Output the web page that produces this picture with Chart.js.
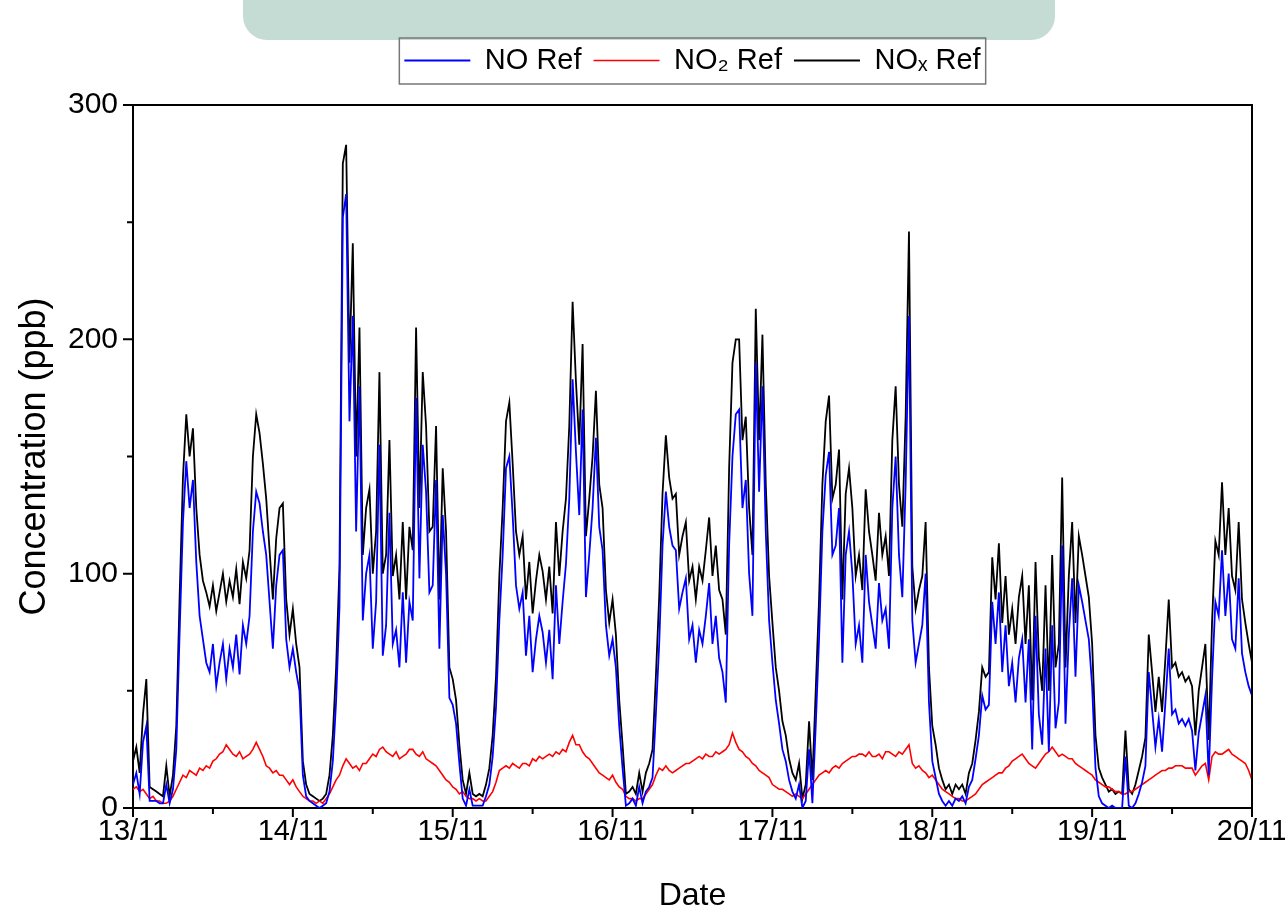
<!DOCTYPE html>
<html>
<head>
<meta charset="utf-8">
<script src="https://cdn.jsdelivr.net/npm/chart.js@4"></script>
<style>
  html, body { margin: 0; padding: 0; background: #fff; }
  #wrap { position: relative; width: 1285px; height: 906px; overflow: hidden; }
  #tab { position: absolute; left: 243px; top: -30px; width: 812px; height: 70px; border-radius: 24px; background: #c5dcd4; }
  canvas { position: absolute; left: 0; top: 0; }
</style>
</head>
<body>
<div id="wrap">
  <div id="tab"></div>
  <canvas id="chart" width="1285" height="906"></canvas>
</div>
<script>
// one reading every half hour, 13/11 00:00 to 20/11 00:00
var stepHours = 0.5;
var dayLabels = ['13/11', '14/11', '15/11', '16/11', '17/11', '18/11', '19/11', '20/11'];

var noRef = [
	10, 15, 6, 28, 35, 3, 3, 3, 2, 2, 10, 2, 8, 25, 75, 122, 148, 128, 140, 105, 82, 72, 62, 58, 70, 52, 62, 70, 55, 68, 60, 74, 57, 78, 70, 82, 118, 135, 130, 118, 108, 88, 68, 95, 108, 110, 72, 60,
	68, 58, 50, 14, 5, 3, 2, 1, 0, 1, 2, 7, 20, 46, 86, 252, 262, 165, 210, 118, 180, 80, 100, 108, 68, 88, 155, 65, 78, 126, 70, 76, 60, 92, 62, 88, 80, 175, 98, 155, 135, 92, 95, 140, 68, 125, 100, 47,
	44, 36, 19, 4, 1, 8, 1, 1, 1, 1, 5, 10, 22, 43, 80, 108, 145, 150, 125, 95, 85, 92, 65, 82, 58, 72, 82, 75, 62, 76, 55, 95, 70, 88, 104, 132, 183, 152, 125, 170, 90, 108, 128, 158, 120, 110, 78, 65,
	72, 60, 35, 17, 1, 2, 4, 1, 9, 2, 7, 9, 13, 40, 70, 112, 135, 120, 112, 110, 85, 92, 98, 72, 78, 62, 76, 70, 82, 96, 70, 82, 64, 58, 45, 112, 150, 168, 170, 128, 140, 100, 82, 190, 135, 180, 118, 80,
	62, 46, 36, 25, 20, 12, 7, 4, 10, 0, 3, 25, 2, 35, 72, 118, 142, 152, 108, 112, 128, 62, 108, 118, 100, 70, 78, 62, 108, 88, 78, 68, 96, 80, 85, 68, 128, 150, 108, 90, 138, 210, 80, 62, 70, 78, 100, 45,
	20, 13, 6, 3, 1, 3, 1, 4, 3, 5, 2, 9, 12, 21, 31, 48, 42, 44, 88, 70, 92, 58, 78, 52, 62, 45, 64, 72, 45, 72, 25, 82, 40, 27, 68, 24, 78, 34, 45, 112, 36, 74, 98, 56, 95, 88, 80, 72,
	52, 17, 5, 2, 1, 0, 1, 0, 0, 0, 22, 1, 0, 2, 6, 11, 18, 58, 42, 26, 38, 24, 45, 68, 40, 42, 36, 38, 35, 38, 33, 16, 32, 40, 48, 14, 55, 88, 82, 110, 82, 100, 72, 68, 98, 66, 58, 52, 48
];

var no2Ref = [
	8, 9, 7, 8, 6, 4, 5, 3, 3, 2, 2, 3, 5, 8, 11, 14, 13, 16, 15, 14, 17, 16, 18, 17, 20, 21, 23, 24, 27, 25, 23, 22, 24, 21, 22, 23, 25, 28, 25, 22, 18, 17, 15, 16, 14, 14, 12, 10,
	12, 9, 7, 5, 4, 3, 3, 2, 3, 2, 4, 6, 9, 12, 14, 18, 21, 19, 17, 18, 16, 19, 19, 21, 23, 22, 25, 26, 24, 23, 22, 24, 21, 22, 23, 25, 25, 23, 22, 24, 21, 20, 19, 18, 16, 14, 12, 11,
	9, 8, 6, 7, 5, 4, 4, 3, 4, 3, 3, 5, 7, 11, 16, 17, 18, 17, 19, 18, 17, 19, 19, 18, 21, 20, 22, 21, 22, 23, 22, 24, 23, 25, 24, 28, 31, 27, 27, 24, 22, 21, 19, 17, 15, 14, 13, 12,
	14, 11, 9, 8, 5, 4, 4, 3, 4, 4, 6, 8, 10, 14, 17, 16, 18, 16, 15, 16, 17, 18, 19, 19, 20, 21, 22, 21, 23, 22, 22, 24, 23, 24, 25, 27, 32, 28, 25, 24, 22, 21, 19, 18, 16, 15, 14, 13,
	10, 9, 8, 8, 7, 6, 5, 6, 5, 4, 6, 8, 10, 12, 14, 15, 16, 15, 17, 18, 17, 19, 20, 21, 22, 22, 23, 23, 22, 24, 22, 22, 23, 21, 24, 24, 23, 22, 24, 23, 25, 27, 19, 17, 18, 16, 15, 13,
	14, 12, 10, 8, 7, 6, 5, 4, 4, 3, 3, 4, 5, 6, 8, 10, 11, 12, 13, 14, 15, 15, 17, 18, 20, 21, 22, 23, 21, 19, 18, 17, 19, 21, 23, 24, 26, 24, 22, 23, 22, 21, 21, 19, 18, 17, 16, 15,
	14, 12, 11, 10, 9, 9, 8, 7, 7, 6, 6, 7, 7, 8, 9, 10, 11, 12, 13, 14, 15, 16, 16, 17, 17, 18, 18, 18, 17, 17, 17, 14, 16, 18, 19, 12, 22, 24, 23, 23, 24, 25, 23, 22, 21, 20, 19, 16, 12
];

var noxRef = [
	20, 26, 15, 40, 55, 9, 8, 7, 6, 5, 18, 5, 14, 35, 90, 141, 168, 150, 162, 128, 108, 97, 92, 86, 95, 84, 92, 100, 88, 97, 90, 102, 87, 105, 98, 110, 150, 168, 160, 147, 132, 110, 89, 115, 128, 130, 89, 74,
	85, 70, 60, 20, 10, 6, 5, 4, 3, 4, 6, 14, 31, 60, 103, 275, 283, 190, 241, 150, 205, 108, 128, 136, 100, 118, 186, 100, 108, 157, 99, 108, 89, 122, 89, 120, 110, 205, 128, 186, 163, 118, 120, 163, 89, 145, 118, 60,
	55, 46, 27, 12, 6, 15, 6, 5, 6, 5, 10, 17, 31, 56, 99, 128, 165, 173, 147, 118, 108, 116, 89, 105, 83, 97, 108, 101, 89, 103, 83, 122, 99, 118, 132, 163, 216, 182, 155, 198, 116, 132, 150, 178, 138, 128, 93, 79,
	89, 74, 46, 27, 6, 7, 9, 6, 15, 7, 15, 19, 25, 56, 90, 134, 159, 141, 132, 134, 108, 116, 122, 97, 103, 89, 103, 97, 110, 124, 99, 112, 93, 89, 74, 145, 190, 200, 200, 157, 167, 128, 108, 213, 157, 202, 138, 99,
	79, 60, 50, 37, 31, 21, 15, 12, 19, 4, 10, 37, 12, 50, 89, 138, 165, 176, 132, 138, 153, 89, 134, 145, 128, 99, 108, 93, 136, 118, 108, 97, 126, 108, 116, 99, 157, 180, 138, 120, 167, 246, 103, 85, 93, 99, 122, 60,
	35, 27, 17, 12, 8, 10, 6, 10, 8, 10, 6, 15, 19, 29, 41, 60, 56, 58, 107, 89, 113, 79, 99, 74, 85, 70, 90, 99, 70, 95, 46, 105, 64, 50, 95, 50, 108, 60, 70, 141, 60, 99, 122, 79, 116, 108, 99, 90,
	70, 31, 17, 13, 10, 7, 8, 6, 7, 6, 33, 8, 6, 10, 16, 22, 30, 74, 58, 41, 56, 41, 64, 89, 60, 62, 56, 58, 54, 56, 52, 31, 50, 60, 70, 29, 79, 114, 108, 139, 108, 128, 99, 93, 122, 89, 79, 70, 62
];

var sans = "'Liberation Sans', Arial, sans-serif";

function toPoints(values) {
	return values.map(function (v, i) { return {x: i * stepHours, y: v}; });
}

// box round the plot, tick marks, legend frame, and some room under the legend
var frame = {
	id: 'frame',
	beforeInit: function (chart) {
		var legend = chart.legend;
		var fit = legend.fit;
		legend.fit = function () {
			fit.call(this);
			this.height += 20;
		};
	},
	afterDraw: function (chart) {
		var ctx = chart.ctx;
		var a = chart.chartArea;
		var x = chart.scales.x;
		var y = chart.scales.y;
		ctx.save();
		ctx.strokeStyle = '#000';
		ctx.lineWidth = 2;
		ctx.beginPath();
		ctx.moveTo(a.left, a.top);
		ctx.lineTo(a.right, a.top);
		ctx.lineTo(a.right, a.bottom);
		x.ticks.forEach(function (t) {
			var px = x.getPixelForValue(t.value);
			var len = t.value % 24 === 0 ? 9 : 6;
			ctx.moveTo(px, a.bottom);
			ctx.lineTo(px, a.bottom + len);
		});
		y.ticks.forEach(function (t) {
			var py = y.getPixelForValue(t.value);
			var len = t.value % 100 === 0 ? 10 : 6;
			ctx.moveTo(a.left - len, py);
			ctx.lineTo(a.left, py);
		});
		ctx.stroke();

		var boxes = chart.legend.legendHitBoxes;
		if (boxes && boxes.length) {
			var l = Infinity, r = -Infinity, t = Infinity, b = -Infinity;
			boxes.forEach(function (h) {
				l = Math.min(l, h.left);
				r = Math.max(r, h.left + h.width);
				t = Math.min(t, h.top);
				b = Math.max(b, h.top + h.height);
			});
			ctx.strokeStyle = '#777';
			ctx.lineWidth = 1.5;
			ctx.strokeRect(l - 5, t - 8, r - l + 10, b - t + 17);
		}
		ctx.restore();
	}
};

var myChart = new Chart(document.getElementById('chart'), {
	type: 'line',
	data: {
		datasets: [
			{label: 'NO Ref', data: toPoints(noRef), borderColor: '#0000ff', backgroundColor: '#0000ff', borderWidth: 1.8},
			{label: 'NO\u2082 Ref', data: toPoints(no2Ref), borderColor: '#ff0000', backgroundColor: '#ff0000', borderWidth: 1.6},
			{label: 'NO\u2093 Ref', data: toPoints(noxRef), borderColor: '#000000', backgroundColor: '#000000', borderWidth: 1.8}
		]
	},
	options: {
		responsive: false,
		animation: false,
		layout: {padding: {top: 0, right: 33, left: 0, bottom: 0}},
		elements: {point: {radius: 0}, line: {tension: 0}},
		plugins: {
			legend: {
				position: 'top',
				fullSize: false,
				labels: {
					usePointStyle: true,
					pointStyle: 'line',
					pointStyleWidth: 66,
					color: '#000',
					padding: 12,
					font: {family: sans, size: 29}
				}
			},
			tooltip: {enabled: false}
		},
		scales: {
			x: {
				type: 'linear',
				min: 0,
				max: 168,
				grid: {display: false, drawTicks: false},
				border: {display: true, color: '#000', width: 2},
				ticks: {
					stepSize: 12,
					autoSkip: false,
					maxRotation: 0,
					padding: 7,
					color: '#000',
					font: {family: sans, size: 29},
					callback: function (v) { return v % 24 === 0 ? dayLabels[v / 24] : ''; }
				},
				title: {display: true, text: 'Date', color: '#000', font: {family: sans, size: 32}, padding: {top: 0, bottom: -9}},
				afterFit: function (s) { s.height = 98; s.paddingLeft = 0; s.paddingRight = 0; }
			},
			y: {
				min: 0,
				max: 300,
				grid: {display: false, drawTicks: false},
				border: {display: true, color: '#000', width: 2},
				ticks: {
					stepSize: 50,
					padding: 15,
					color: '#000',
					font: {family: sans, size: 30},
					callback: function (v) { return v % 100 === 0 ? v : ''; }
				},
				title: {display: true, text: 'Concentration (ppb)', color: '#000', font: {family: sans, size: 36}, padding: {top: 13, bottom: 0}},
				afterFit: function (s) { s.width = 133; s.paddingTop = 105; }
			}
		}
	},
	plugins: [frame]
});
</script>
</body>
</html>
